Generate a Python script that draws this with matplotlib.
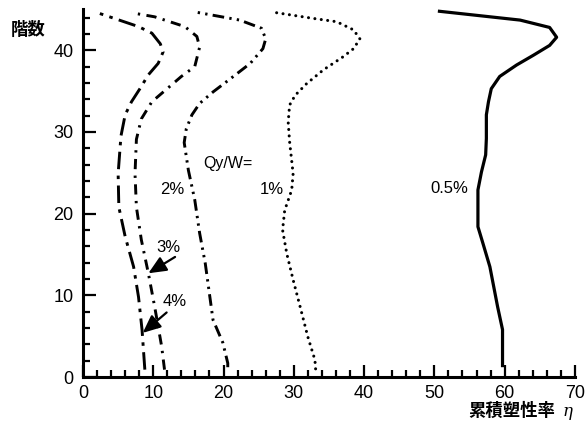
import matplotlib.pyplot as plt
from matplotlib.ticker import MultipleLocator

plt.rcParams['font.family'] = ['Liberation Sans', 'Noto Sans CJK JP', 'DejaVu Sans']

# 累積塑性率 eta per floor, one curve per Qy/W
y05 = [1.2, 5.8, 8.6, 13.5, 16.4, 18.4, 22.9, 25.1, 27.2, 29.2, 32.1, 33.7, 35.3, 36.8, 38.2, 39.4, 40.6, 41.6, 42.8, 43.7, 44.8]
x05 = [59.7, 59.7, 59.0, 57.9, 56.9, 56.2, 56.2, 56.7, 57.3, 57.4, 57.4, 57.7, 58.1, 59.3, 61.7, 64.1, 66.4, 67.4, 66.4, 62.2, 50.5]

y1 = [1.0, 2.1, 4.9, 8.6, 11.9, 15.1, 18.0, 20.4, 22.9, 24.9, 28.8, 31.2, 33.3, 34.5, 35.9, 37.6, 39.2, 40.2, 41.4, 42.5, 43.5, 43.9, 44.7]
x1 = [33.1, 33.0, 32.0, 30.9, 29.9, 29.0, 28.4, 28.7, 29.7, 29.9, 29.4, 29.2, 29.4, 30.2, 31.8, 34.2, 37.0, 38.5, 39.4, 38.5, 36.1, 32.8, 26.8]

y2 = [1.2, 1.7, 4.2, 7.0, 13.9, 17.6, 21.7, 25.3, 28.7, 30.4, 32.1, 33.5, 34.9, 36.8, 38.4, 40.2, 41.4, 42.7, 43.7, 44.7]
x2 = [20.6, 20.6, 19.9, 18.5, 17.4, 16.6, 15.9, 15.0, 14.4, 14.7, 15.5, 16.6, 18.5, 21.4, 23.8, 25.6, 26.0, 25.4, 22.3, 15.9]

y3 = [0.9, 3.7, 8.6, 12.7, 16.8, 20.8, 24.9, 29.1, 31.6, 33.7, 35.1, 36.8, 38.0, 40.4, 41.7, 42.9, 44.1, 44.6]
x3 = [11.6, 11.2, 10.2, 9.3, 8.3, 7.6, 7.4, 7.6, 8.3, 9.8, 11.7, 14.0, 15.9, 16.6, 16.2, 14.5, 10.2, 6.9]

y4 = [0.9, 5.8, 9.8, 13.5, 17.2, 20.8, 24.9, 29.5, 32.1, 33.7, 35.3, 37.0, 38.4, 39.8, 40.8, 42.1, 42.9, 43.6, 44.5]
x4 = [8.8, 8.4, 7.9, 7.2, 6.0, 5.1, 5.0, 5.4, 6.0, 6.9, 8.1, 9.3, 10.7, 11.4, 11.0, 9.8, 7.9, 5.5, 2.4]

fig = plt.figure(figsize=(5.87, 4.21), dpi=100)
ax = fig.add_axes([0.1414, 0.1045, 0.838, 0.873])

kw = dict(color='black', solid_joinstyle='round', dash_joinstyle='round')
ax.plot(x05, y05, lw=2.3, solid_capstyle='butt', **kw)
ax.plot(x1, y1, lw=2.2, linestyle=(0, (0.01, 2.1)), dash_capstyle='round', **kw)
ax.plot(x2, y2, lw=2.1, linestyle=(0, (4, 1.8, 0.8, 1.8, 0.8, 1.8)), **kw)
ax.plot(x3, y3, lw=2.1, linestyle=(0, (3.5, 2.2, 0.8, 2.2)), **kw)
ax.plot(x4, y4, lw=2.1, linestyle=(0, (6, 2.2, 1.2, 2.2)), **kw)

fs = 12
ax.text(17.1, 26.2, 'Qy/W=', fontsize=11.5, va='center', ha='left')
ax.text(11.0, 22.9, '2%', fontsize=fs, va='center', ha='left')
ax.text(25.2, 22.9, '1%', fontsize=fs, va='center', ha='left')
ax.text(49.4, 23.1, '0.5%', fontsize=fs, va='center', ha='left')
ax.text(10.5, 15.9, '3%', fontsize=fs, va='center', ha='left')
ax.text(11.4, 9.3, '4%', fontsize=fs, va='center', ha='left')
arrow = dict(arrowstyle='-|>,head_length=0.9,head_width=0.4', color='black', lw=1.6,
             mutation_scale=12, shrinkA=0, shrinkB=0)
ax.annotate('', xy=(9.3, 12.7), xytext=(13.1, 14.7), arrowprops=arrow)
ax.annotate('', xy=(8.5, 5.4), xytext=(11.9, 7.9), arrowprops=arrow)

ax.set_xlim(0, 70)
ax.set_ylim(0, 45)
ax.xaxis.set_major_locator(MultipleLocator(10))
ax.xaxis.set_minor_locator(MultipleLocator(2))
ax.yaxis.set_major_locator(MultipleLocator(10))
ax.yaxis.set_minor_locator(MultipleLocator(2))
ax.tick_params(which='both', direction='in', width=1.6, labelsize=13)
ax.tick_params(axis='y', pad=7)
ax.tick_params(axis='x', pad=6)
ax.tick_params(which='major', length=9)
ax.tick_params(which='minor', length=5)
for s in ['top', 'right']:
    ax.spines[s].set_visible(False)
for s in ['left', 'bottom']:
    ax.spines[s].set_linewidth(2.2)

fig.text(0.048, 0.93, '階数', fontsize=12.5, fontweight='bold', family='Noto Sans CJK JP', ha='center', va='center')
fig.text(0.872, 0.024, '累積塑性率', fontsize=12.5, fontweight='bold', family='Noto Sans CJK JP', ha='center', va='center')
fig.text(0.966, 0.022, 'η', fontsize=12, style='italic', family='DejaVu Serif', ha='center', va='center')

fig.savefig('out.png', dpi=100)
